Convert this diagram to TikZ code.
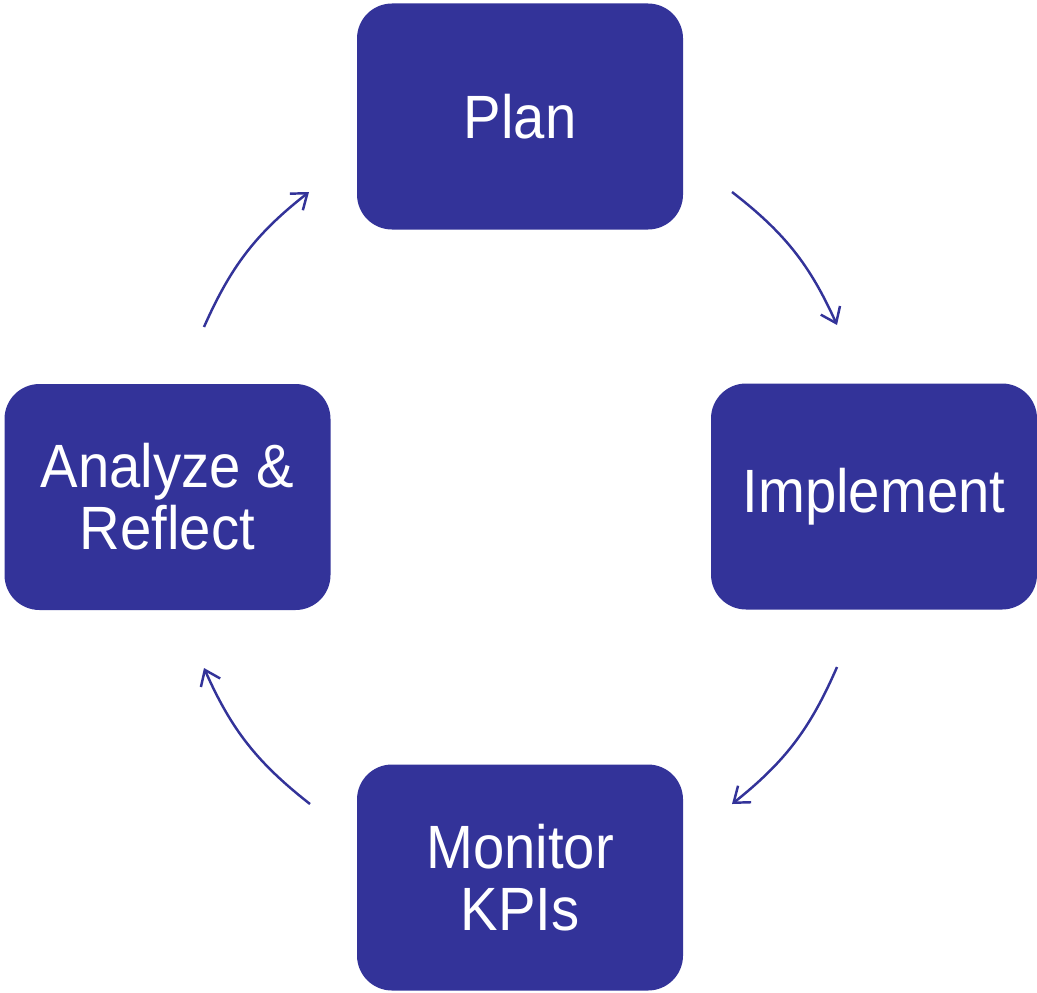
\documentclass[tikz,border=0pt]{standalone}
\usepackage{fontspec}
\setmainfont{Liberation Sans}[FakeStretch=0.92]
\usepackage{tikz}
\usetikzlibrary{arrows.meta}
\definecolor{cycleblue}{RGB}{51,51,153}
\tikzset{
	phasestyle/.style={rectangle,rounded corners=0.35cm,fill=cycleblue,text=white,
		minimum width=3.26cm,minimum height=2.26cm,inner sep=0pt,align=center,
		font=\fontsize{17.4pt}{17.6pt}\selectfont},
	cyclearrow/.style={-{Straight Barb[length=4pt,width=6pt]},draw=cycleblue,line width=0.7pt}
}

\begin{document}
\begin{tikzpicture}
	\useasboundingbox (0,0) rectangle (10.37,9.92);
	\node[phasestyle] (plan) at (5.20,8.755) {Plan};
	\node[phasestyle] (implement) at (8.74,4.955) {Implement};
	\node[phasestyle] (monitor) at (5.20,1.145) {Monitor\\KPIs};
	\node[phasestyle] (analyze) at (1.675,4.95) {Analyze \&\\Reflect};
	\coordinate (p1) at (7.32,8.00);
	\coordinate (p2) at (8.37,6.67);
	\coordinate (i1) at (8.37,3.25);
	\coordinate (i2) at (7.32,1.88);
	\coordinate (m1) at (3.10,1.88);
	\coordinate (m2) at (2.04,3.24);
	\coordinate (a1) at (2.04,6.65);
	\coordinate (a2) at (3.09,8.00);
	\foreach \s/\e in {p1/p2,i1/i2,m1/m2,a1/a2}
	\draw[cyclearrow] (\s) to[bend left=14] (\e);
\end{tikzpicture}
\end{document}
